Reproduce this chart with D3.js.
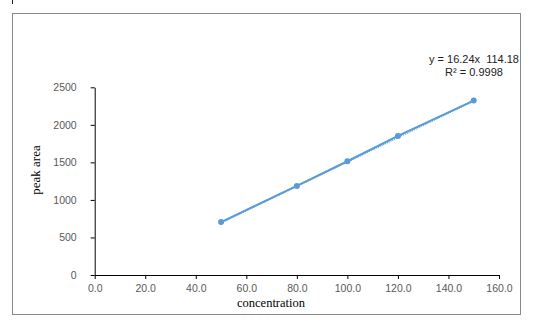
<!DOCTYPE html>
<html>
<head>
<meta charset="utf-8">
<script src="https://cdn.jsdelivr.net/npm/d3@7"></script>
<style>
  body { margin: 0; background: #fff; }
  .tick text { font-family: "Liberation Sans Narrow", "Arial Narrow", "Liberation Sans", sans-serif; font-size: 10.5px; fill: #595959; }
  text { white-space: pre; }
</style>
</head>
<body>
<div id="chart"></div>
<script>
// calibration data
const concentration = [50, 80, 100, 120, 150];
const peakArea = [705, 1186, 1515, 1853, 2323];
const xTicks = [0, 20, 40, 60, 80, 100, 120, 140, 160];
const yTicks = [0, 500, 1000, 1500, 2000, 2500];
const slope = 16.24, intercept = -114.18;
const eqLines = ["y = 16.24x  114.18", "R\u00b2 = 0.9998"];

const width = 534, height = 333;
const svg = d3.select("#chart").append("svg")
  .attr("width", width)
  .attr("height", height);

// chart frame
svg.append("rect")
  .attr("x", 12.5).attr("y", 13.5)
  .attr("width", 508).attr("height", 301)
  .attr("fill", "none").attr("stroke", "#888");
svg.append("line")
  .attr("x1", 12.5).attr("x2", 12.5).attr("y1", 0).attr("y2", 4)
  .attr("stroke", "#222");

const x = d3.scaleLinear().domain([0, 160]).range([94.7, 499]);
const y = d3.scaleLinear().domain([0, 2500]).range([275, 87.3]);

const xAxis = svg.append("g")
  .attr("transform", "translate(0," + y(0) + ")")
  .call(d3.axisBottom(x).tickValues(xTicks).tickFormat(d3.format(".1f")).tickSizeInner(4).tickSizeOuter(0));
const yAxis = svg.append("g")
  .attr("transform", "translate(" + x(0) + ",0)")
  .call(d3.axisLeft(y).tickValues(yTicks).tickFormat(d3.format("d")).tickSizeInner(4).tickSizeOuter(0));

[xAxis, yAxis].forEach(g => {
  g.select(".domain").attr("stroke", "#000");
  g.selectAll(".tick line").attr("stroke", "#000");
});
xAxis.selectAll(".tick text").attr("y", 10);
yAxis.selectAll(".tick text").attr("x", -18);

// axis titles
svg.append("text")
  .attr("x", 271).attr("y", 307)
  .attr("text-anchor", "middle")
  .attr("font-family", "'Liberation Serif', 'Times New Roman', serif")
  .attr("font-size", 12.5)
  .text("concentration");
svg.append("text")
  .attr("transform", "translate(40,170) rotate(-90)")
  .attr("text-anchor", "middle")
  .attr("font-family", "'Liberation Serif', 'Times New Roman', serif")
  .attr("font-size", 13)
  .text("peak area");

const blue = "#5B9BD5";
const pts = concentration.map((c, i) => [c, peakArea[i]]);

// series line
svg.append("path")
  .datum(pts)
  .attr("fill", "none")
  .attr("stroke", blue)
  .attr("stroke-width", 2)
  .attr("d", d3.line().x(d => x(d[0])).y(d => y(d[1])));

// linear trendline (dotted)
const xMin = d3.min(concentration), xMax = d3.max(concentration);
svg.append("line")
  .attr("x1", x(xMin)).attr("y1", y(slope * xMin + intercept))
  .attr("x2", x(xMax)).attr("y2", y(slope * xMax + intercept))
  .attr("stroke", blue)
  .attr("stroke-width", 2)
  .attr("stroke-dasharray", "1,1");

svg.selectAll("circle.pt")
  .data(pts)
  .enter().append("circle")
  .attr("class", "pt")
  .attr("cx", d => x(d[0]))
  .attr("cy", d => y(d[1]))
  .attr("r", 3)
  .attr("fill", blue);

// equation label
svg.append("text")
  .attr("x", 474).attr("y", 63)
  .attr("text-anchor", "middle")
  .attr("font-family", "'Liberation Sans Narrow', 'Arial Narrow', 'Liberation Sans', sans-serif")
  .attr("font-size", 11)
  .attr("fill", "#222")
  .selectAll("tspan")
  .data(eqLines)
  .enter().append("tspan")
  .attr("x", 474)
  .attr("dy", (d, i) => i === 0 ? 0 : 13)
  .text(d => d);
</script>
</body>
</html>
